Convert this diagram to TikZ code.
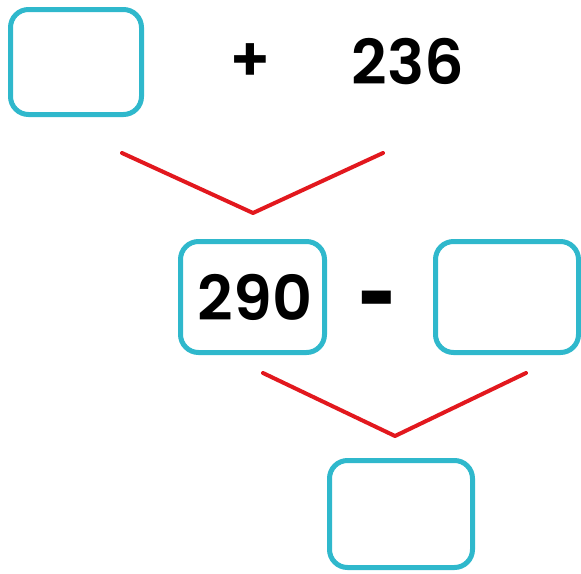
\documentclass[tikz,border=0pt]{standalone}
\usepackage{fontspec}
\usepackage{graphicx}
\setmainfont{Poppins}
\newfontfamily\numfont{Poppins SemiBold}
\usetikzlibrary{positioning}
\definecolor{boxblue}{RGB}{47,184,204}
\definecolor{vred}{RGB}{226,24,30}
\tikzset{
	ansbox/.style={draw=boxblue, line width=5pt, rounded corners=18pt, inner sep=0pt},
	num/.style={font=\fontsize{62}{68}\numfont, inner sep=0pt},
	vline/.style={draw=vred, line width=4pt, line cap=round, line join=round}
}
\begin{document}
\begin{tikzpicture}[x=1pt,y=-1pt]
\useasboundingbox (0,0) rectangle (581,573);

% top row
\node[ansbox, minimum width=131pt, minimum height=105pt] (boxA) at (76,62) {};
\node[num] (plus) at (250,62.5) {+};
\node[num] (n236) at (408,61.5) {236};

% middle row
\node[ansbox, minimum width=144pt, minimum height=111pt] (box290) at (252.5,297) {};
\node[num] (n290) at (255,297.5) {290};
\node[num] (minus) at (377.5,314) {\scalebox{1.1}[1.8]{-}};
\node[ansbox, minimum width=143pt, minimum height=111pt] (boxC) at (507,297) {};

% bottom
\node[ansbox, minimum width=143pt, minimum height=107pt] (boxD) at (401,514) {};

% joining lines
\coordinate (a1) at (122,153);
\coordinate (a2) at (253,213);
\coordinate (a3) at (383,153);
\draw[vline] (a1) -- (a2) -- (a3);

\coordinate (b1) at (263,373);
\coordinate (b2) at (395,436);
\coordinate (b3) at (526,373);
\draw[vline] (b1) -- (b2) -- (b3);

\end{tikzpicture}
\end{document}
